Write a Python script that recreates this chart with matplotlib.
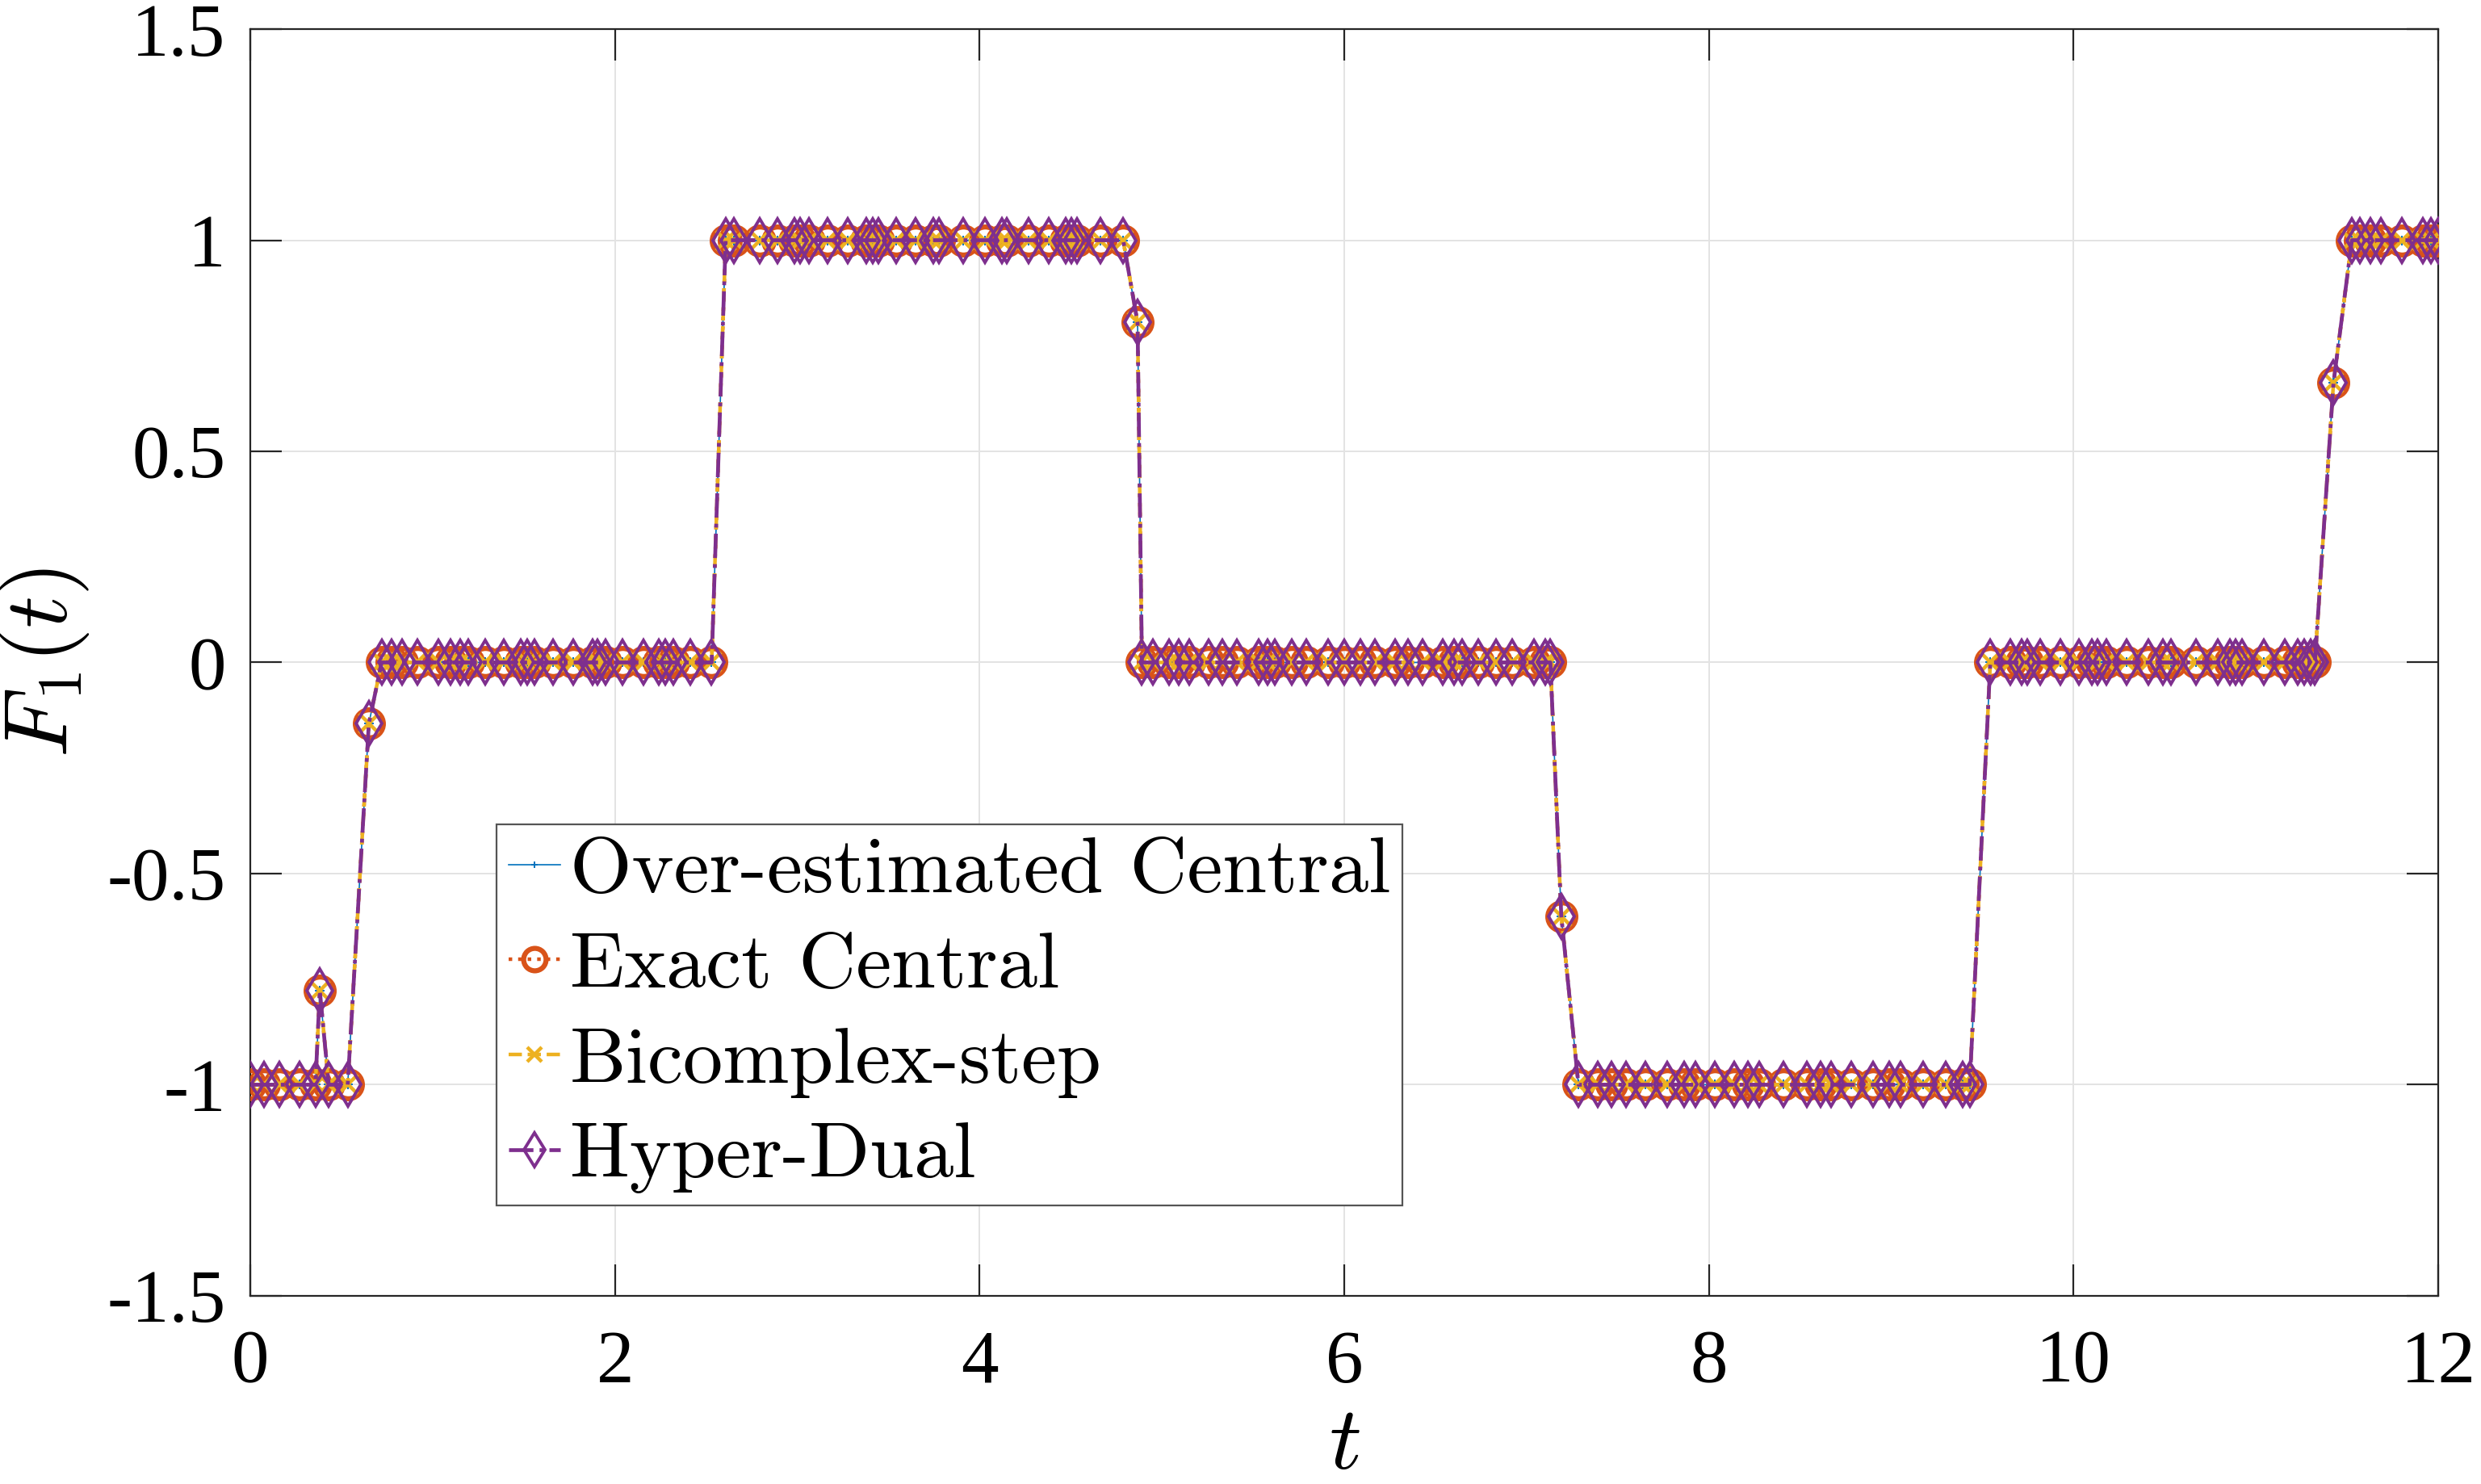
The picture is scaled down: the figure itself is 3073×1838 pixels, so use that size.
import matplotlib
matplotlib.use("Agg")
import matplotlib.pyplot as plt

plt.rcParams.update({
    "font.family": "Liberation Serif",
    "mathtext.fontset": "cm",
    "axes.linewidth": 1.6,
    "axes.edgecolor": "#262626",
})

# sample times (irregular) and F1(t); all four methods agree to plot precision
t = [
    0.000, 0.076, 0.160, 0.270, 0.357, 0.381, 0.430, 0.534, 0.650,
    0.720, 0.775, 0.830, 0.915, 1.030, 1.100, 1.150, 1.195, 1.290, 1.390,
    1.485, 1.520, 1.560, 1.660, 1.770, 1.875, 1.905, 1.950, 2.040, 2.155,
    2.240, 2.275, 2.320, 2.415, 2.530,
    2.607, 2.653, 2.795, 2.890, 2.985, 3.016, 3.065, 3.167, 3.277, 3.380,
    3.413, 3.445, 3.540, 3.650, 3.745, 3.778, 3.910, 4.030, 4.124, 4.150,
    4.267, 4.378, 4.473, 4.505, 4.535, 4.663, 4.787,
    4.866,
    4.890, 4.950, 5.040, 5.090, 5.150, 5.255, 5.330, 5.410, 5.530, 5.580,
    5.620, 5.710, 5.790, 5.910, 6.000, 6.090, 6.170, 6.280, 6.350, 6.430,
    6.540, 6.600, 6.645, 6.735, 6.830, 6.920, 7.040, 7.100, 7.130,
    7.190,
    7.284, 7.390, 7.467, 7.543, 7.650, 7.770, 7.864, 7.925, 8.030, 8.140,
    8.214, 8.275, 8.410, 8.535, 8.610, 8.670, 8.780, 8.900, 8.990, 9.050,
    9.175, 9.300, 9.390, 9.430,
    9.543, 9.654, 9.713, 9.747, 9.815, 9.925, 10.027, 10.100, 10.130,
    10.180, 10.290, 10.410, 10.490, 10.535, 10.670, 10.790, 10.857, 10.890,
    10.925, 11.043, 11.160, 11.230, 11.263, 11.300, 11.323,
    11.425,
    11.526, 11.570, 11.628, 11.687, 11.798, 11.916, 11.960, 12.000,
]
F1 = [
    -1, -1, -1, -1, -1, -0.777, -1, -1, -0.145,
    0, 0, 0, 0, 0, 0, 0, 0, 0, 0,
    0, 0, 0, 0, 0, 0, 0, 0, 0, 0,
    0, 0, 0, 0, 0,
    1, 1, 1, 1, 1, 1, 1, 1, 1, 1,
    1, 1, 1, 1, 1, 1, 1, 1, 1, 1,
    1, 1, 1, 1, 1, 1, 1,
    0.805,
    0, 0, 0, 0, 0, 0, 0, 0, 0, 0,
    0, 0, 0, 0, 0, 0, 0, 0, 0, 0,
    0, 0, 0, 0, 0, 0, 0, 0, 0,
    -0.601,
    -1, -1, -1, -1, -1, -1, -1, -1, -1, -1,
    -1, -1, -1, -1, -1, -1, -1, -1, -1, -1,
    -1, -1, -1, -1,
    0, 0, 0, 0, 0, 0, 0, 0, 0,
    0, 0, 0, 0, 0, 0, 0, 0, 0,
    0, 0, 0, 0, 0, 0, 0,
    0.662,
    1, 1, 1, 1, 1, 1, 1, 1,
]

F_over_central = F1
F_exact_central = F1
F_bicomplex = F1
F_hyperdual = F1

labels = ["Over-estimated Central", "Exact Central", "Bicomplex-step", "Hyper-Dual"]
yticks = [-1.5, -1, -0.5, 0, 0.5, 1, 1.5]
ytick_labels = ["-1.5", "-1", "-0.5", "0", "0.5", "1", "1.5"]
xticks = [0, 2, 4, 6, 8, 10, 12]

fig = plt.figure(figsize=(30.73, 18.38), dpi=100)
ax = fig.add_axes([0.1009, 0.1268, 0.8819, 0.8536])

ax.plot(t, F_over_central, color="#0072BD", ls="-", lw=1.2, marker="+",
        ms=8, mew=1.4, label=labels[0], zorder=3)
ax.plot(t, F_exact_central, color="#D95319", ls=":", lw=3.2, marker="o",
        ms=25, mew=4.5, mfc="none", label=labels[1], zorder=4)
ax.plot(t, F_bicomplex, color="#EDB120", ls="--", lw=3.2, marker="x",
        ms=17, mew=3.2, label=labels[2], zorder=5)
ax.plot(t, F_hyperdual, color="#7E2F8E", ls="-.", lw=3.4, marker="d",
        ms=27, mew=2.8, mfc="none", label=labels[3], zorder=6)

ax.set_xlim(0, 12)
ax.set_ylim(-1.5, 1.5)
ax.set_xticks(xticks)
ax.set_xticklabels([str(v) for v in xticks])
ax.set_yticks(yticks)
ax.set_yticklabels(ytick_labels)
ax.tick_params(direction="in", length=28, width=1.6, labelsize=67,
               top=True, right=True, colors="#262626", labelcolor="black")
ax.tick_params(axis="y", pad=22)
ax.tick_params(axis="x", pad=30)
ax.grid(True, color="#e3e3e3", lw=1.4)
ax.set_axisbelow(True)

ax.set_xlabel(r"$t$", fontsize=80, labelpad=8)
ax.set_ylabel(r"$F_1(t)$", fontsize=80, labelpad=14)

leg = ax.legend(loc="lower left", bbox_to_anchor=(0.1125, 0.0714),
                borderaxespad=0, fancybox=False, framealpha=1,
                edgecolor="#555555", handlelength=0.65, handletextpad=0.12,
                borderpad=0.15, labelspacing=0.3, markerscale=0.8,
                prop={"family": "cmr10", "size": 71})
leg.get_frame().set_linewidth(1.6)

fig.savefig("out.png", dpi=100)
